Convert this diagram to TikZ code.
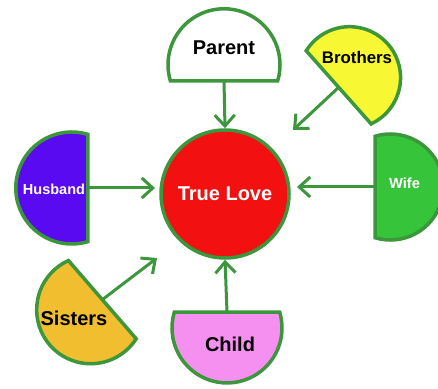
\documentclass[tikz,border=0pt]{standalone}
\usepackage{fontspec}
\setmainfont{Liberation Sans}
\usepackage{tikz}
\definecolor{bord}{HTML}{3C963C}
\definecolor{rouge}{HTML}{F21010}
\definecolor{violet}{HTML}{5A0AF0}
\definecolor{jaune}{HTML}{F7F734}
\definecolor{vert}{HTML}{35C43A}
\definecolor{orange}{HTML}{F0BE2E}
\definecolor{rose}{HTML}{F590F0}
\usetikzlibrary{calc,arrows.meta}
\tikzset{fig/.style={
    line width=3.5pt,
    draw=bord},
  fleche/.style={
    line width=3pt,
    draw=bord,
    -{Straight Barb[length=11pt,width=20pt]}},
  texte/.style={
    font=\bfseries\fontsize{#1}{#1}\selectfont}}
\newcommand{\segment}[5]{%
  \coordinate (#1c) at ($(#2)+(#3:{0.29*#4pt})$);
  \draw[fig,fill=#5] ($(#1c)+(#3-106.6:#4pt)$)
    arc[start angle=#3-106.6, end angle=#3+106.6, radius=#4pt] -- cycle;}

\begin{document}
\begin{tikzpicture}[x=1pt,y=1pt]

\useasboundingbox (0,0) rectangle (438,388);

\coordinate (parentbase) at (224,307);
\coordinate (brothersbase) at (338.5,300.5);
\coordinate (husbandbase) at (88,200);
\coordinate (wifebase) at (375,201);
\coordinate (sistersbase) at (102.5,88.5);
\coordinate (childbase) at (227,76);

\segment{parentseg}{parentbase}{90}{56}{white}
\segment{brothersseg}{brothersbase}{41.6}{51}{jaune}
\segment{husbandseg}{husbandbase}{180}{56}{violet}
\segment{wifeseg}{wifebase}{0}{53}{vert}
\segment{sistersseg}{sistersbase}{220.9}{54}{orange}
\segment{childseg}{childbase}{270}{55}{rose}

\node[fig,
  circle,
  minimum size=128pt,
  fill=rouge,
  text=white,
  texte=20] (love) at (225,194) {True Love};

\node[texte=20] (parent) at (224,340) {Parent};
\node[texte=16.8] (brothers) at (357,331) {Brothers};
\node[texte=14.5,
  text=white] (husband) at (54,199) {Husband};
\node[texte=14.7,
  text=white] (wife) at (404.5,205) {Wife};
\node[texte=20] (sisters) at (74,70) {Sisters};
\node[texte=20] (child) at (230,44) {Child};

\coordinate (brotherstip) at (293,258);
\coordinate (husbandtip) at (155,200);
\coordinate (wifetip) at (297,201);
\coordinate (sisterstip) at (157,130);

\draw[fleche] (parentbase) -- (love.north);
\draw[fleche] (brothersbase) -- (brotherstip);
\draw[fleche] (husbandbase) -- (husbandtip);
\draw[fleche] (wifebase) -- (wifetip);
\draw[fleche] (sistersbase) -- (sisterstip);
\draw[fleche] (childbase) -- (love.south);

\end{tikzpicture}
\end{document}
